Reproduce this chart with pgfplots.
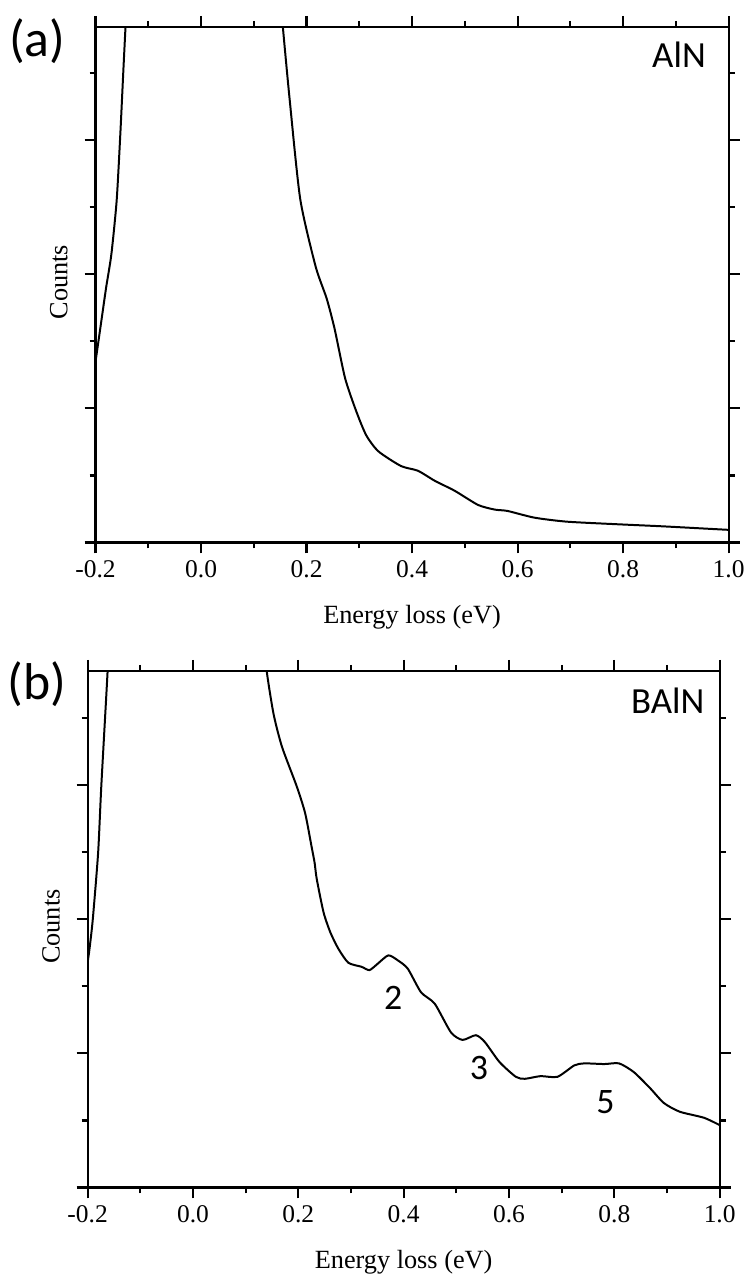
\documentclass[border=0pt]{standalone}
\usepackage{pgfplots}
\pgfplotsset{compat=1.18}
\usepackage{fontspec}
\setmainfont{Liberation Serif}
\newfontfamily\calibri{Carlito}

\pgfplotsset{
 myaxis/.style={
  scale only axis,
  anchor=south west,
  xmin=-0.2, xmax=1.0, ymin=0,
  xtick={-0.2,0,0.2,0.4,0.6,0.8,1.0},
  xticklabels={-0.2,0.0,0.2,0.4,0.6,0.8,1.0},
  minor xtick={-0.1,0.1,0.3,0.5,0.7,0.9},
  ytick={0,2,4,6}, minor ytick={1,3,5,7},
  yticklabels={},
  tick align=outside,
  major tick length=5.5pt, minor tick length=3pt,
  every tick/.style={black, line width=1.1pt},
  axis line style={line width=1.1pt},
  ticklabel style={font=\fontsize{12.8}{14}\selectfont},
  xlabel={Energy loss (eV)},
  ylabel={Counts},
  label style={font=\fontsize{13.2}{15}\selectfont},
  xlabel style={at={(axis description cs:0.5,-0.145)}, anchor=center},
  ylabel style={at={(axis description cs:-0.058,0.505)}, anchor=center},
  clip mode=individual,
 },
 curve/.style={black, line width=1pt, smooth, tension=0.4},
}

\begin{document}
\begin{tikzpicture}
% Panel (a)
\begin{axis}[myaxis, at={(48pt,368pt)}, width=318pt, height=259pt, ymax=7.69]
\addplot[curve] coordinates {
(-0.200,2.70) (-0.190,3.25) (-0.180,3.80) (-0.170,4.30) (-0.160,5.10)
(-0.153,6.10) (-0.147,7.09) (-0.140,8.20)};
\addplot[curve] coordinates {
(0.150,8.20) (0.155,7.69) (0.168,6.60) (0.188,5.12) (0.217,4.12) (0.238,3.64)
(0.253,3.19) (0.273,2.45) (0.294,1.96) (0.313,1.60) (0.336,1.36) (0.379,1.14)
(0.411,1.07) (0.443,0.92) (0.481,0.77) (0.525,0.56) (0.557,0.49) (0.581,0.47)
(0.632,0.37) (0.694,0.31) (0.794,0.27) (0.877,0.24) (0.996,0.19) (1.000,0.19)};
\node[font=\calibri\fontsize{26}{28}\selectfont, anchor=center] at (axis description cs:-0.092,0.972) {(a)};
\node[font=\calibri\fontsize{18.5}{20}\selectfont, anchor=base east] at (axis description cs:0.975,0.921) {AlN};
\end{axis}
% Panel (b)
\begin{axis}[myaxis, at={(44pt,44pt)}, width=317.5pt, height=259.5pt, ymax=7.70]
\addplot[curve] coordinates {
(-0.200,3.35) (-0.196,3.58) (-0.190,4.01) (-0.180,4.99) (-0.174,5.98)
(-0.162,7.70) (-0.160,8.20)};
\addplot[curve] coordinates {
(0.135,8.20) (0.140,7.70) (0.153,7.06) (0.169,6.57) (0.197,5.98) (0.213,5.58)
(0.225,5.09) (0.231,4.84) (0.235,4.60) (0.248,4.10) (0.261,3.80) (0.276,3.56)
(0.295,3.35) (0.320,3.29) (0.335,3.24) (0.350,3.33) (0.371,3.46) (0.390,3.38)
(0.408,3.26) (0.433,2.91) (0.459,2.74) (0.490,2.31) (0.512,2.20) (0.537,2.27)
(0.554,2.17) (0.582,1.87) (0.613,1.65) (0.630,1.62) (0.660,1.66) (0.692,1.65)
(0.724,1.82) (0.743,1.85) (0.781,1.84) (0.809,1.85) (0.837,1.72) (0.868,1.48)
(0.894,1.26) (0.924,1.13) (0.970,1.04) (1.000,0.93)};
\node[font=\calibri\fontsize{26}{28}\selectfont, anchor=center] at (axis description cs:-0.08,0.975) {(b)};
\node[font=\calibri\fontsize{18.5}{20}\selectfont, anchor=base east] at (axis description cs:0.987,0.917) {BAlN};
\node[font=\calibri\fontsize{18}{20}\selectfont] at (axis cs:0.380,2.83) {2};
\node[font=\calibri\fontsize{18}{20}\selectfont] at (axis cs:0.543,1.78) {3};
\node[font=\calibri\fontsize{18}{20}\selectfont] at (axis cs:0.783,1.28) {5};
\end{axis}
\path[use as bounding box] (0pt,0pt) rectangle (375.5pt,640.5pt);
\end{tikzpicture}
\end{document}
